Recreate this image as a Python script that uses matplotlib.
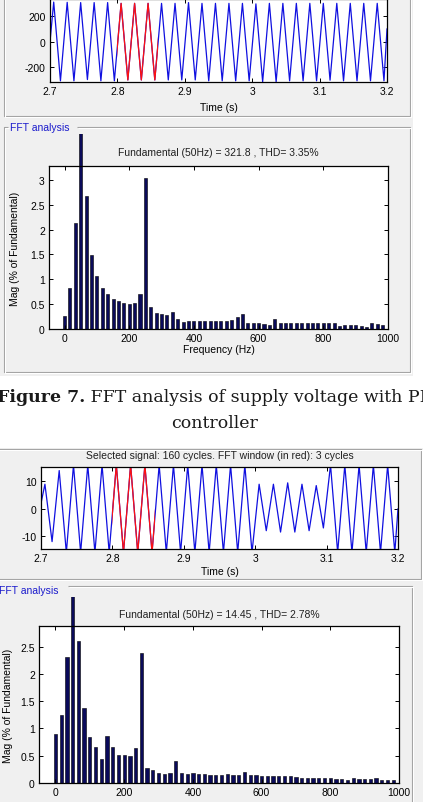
import numpy as np
import matplotlib.pyplot as plt
from matplotlib.patches import Rectangle
from matplotlib.transforms import Bbox, TransformedBbox

plt.rcParams['font.family'] = ['Liberation Sans', 'DejaVu Sans']
plt.rcParams['axes.unicode_minus'] = False

# ---- values ----
time_ticks = [2.7, 2.8, 2.9, 3.0, 3.1, 3.2]
time_ticklabels = ['2.7', '2.8', '2.9', '3', '3.1', '3.2']
freq_ticks = [0, 200, 400, 600, 800, 1000]
mag_ticks_1 = [0, 0.5, 1, 1.5, 2, 2.5, 3]
mag_ticks_2 = [0, 0.5, 1, 1.5, 2, 2.5]
volt_ticks_1 = [-200, 0, 200]
volt_ticks_2 = [-10, 0, 10]

first_peak_t = 2.7055   # time of the first positive peak (s)
half_period = 0.01      # 50 Hz supply
fft_window = (2.8, 2.86)  # 3 cycles shown in red
bin_hz = 50 / 3         # FFT resolution for a 3 cycle window

# top waveform: value at 2.7 s, then alternating peak / trough values, value at 3.2 s
sig1_start = 0
sig1_peaks = [310, 308, 306, 306, 306, 300, 300, 300, 300, 300, 306, 300, 300,
              300, 300, 296, 300, 300, 300, 300, 300, 300, 300, 300, 300]
sig1_troughs = [-305, -305, -295, -305, -305, -298, -298, -298, -298, -298, -298, -305, -305,
                -305, -305, -312, -312, -305, -305, -305, -300, -305, -305, -305, -305]
sig1_end = 100

# second waveform
sig2_start = 2
sig2_peaks = [9, 14, 16, 16, 16, 16, 16, 16, 16, 16, 16, 16, 16,
              16, 16, 9, 9, 9.5, 9, 8.5, 16, 16, 16, 16, 16]
sig2_troughs = [-12, -16, -16, -16, -16, -16, -16, -16, -16, -16, -16, -16, -16,
                -16, -16, -8, -8.5, -8.5, -8, -7, -16, -16, -16, -16, -16]
sig2_end = 0

# FFT magnitudes in % of fundamental; bin 3 is the 50 Hz fundamental (100 %)
fft1_mag = [0.27, 0.83, 2.14, 100, 2.68, 1.48, 1.06, 0.83, 0.71, 0.61,
            0.57, 0.53, 0.51, 0.53, 0.70, 3.03, 0.45, 0.33, 0.31, 0.29,
            0.35, 0.21, 0.15, 0.16, 0.16, 0.16, 0.16, 0.16, 0.16, 0.16,
            0.16, 0.19, 0.25, 0.31, 0.13, 0.13, 0.13, 0.10, 0.08, 0.21,
            0.13, 0.13, 0.13, 0.13, 0.13, 0.12, 0.13, 0.13, 0.13, 0.13,
            0.13, 0.06, 0.09, 0.09, 0.08, 0.06, 0.04, 0.12, 0.10, 0.09]
fft2_mag = [0.89, 1.24, 2.31, 100, 2.61, 1.37, 0.85, 0.66, 0.44, 0.86,
            0.66, 0.52, 0.52, 0.50, 0.64, 2.38, 0.27, 0.24, 0.19, 0.17,
            0.19, 0.40, 0.19, 0.16, 0.19, 0.17, 0.17, 0.14, 0.14, 0.14,
            0.16, 0.15, 0.15, 0.20, 0.14, 0.14, 0.12, 0.12, 0.12, 0.12,
            0.12, 0.12, 0.11, 0.10, 0.10, 0.10, 0.10, 0.10, 0.09, 0.08,
            0.08, 0.06, 0.09, 0.08, 0.08, 0.08, 0.09, 0.06, 0.06, 0.06]

title1 = 'Fundamental (50Hz) = 321.8 , THD= 3.35%'
title2 = 'Fundamental (50Hz) = 14.45 , THD= 2.78%'
sel_title = 'Selected signal: 160 cycles. FFT window (in red): 3 cycles'

W, H = 423, 803
fig = plt.figure(figsize=(W / 100, H / 100), dpi=100)
fig.patch.set_facecolor('white')

GRAY = '#f0f0f0'
BLUE_TXT = '#1a1acc'
BAR = '#0a0a5a'
FS = 7.5
SERIF = ['DejaVu Serif', 'Liberation Serif']


def px_axes(x0, y0, x1, y1, **kw):
    return fig.add_axes([x0 / W, 1 - y1 / H, (x1 - x0) / W, (y1 - y0) / H], **kw)


# background in pixel coordinates
bg = px_axes(0, 0, W, H, zorder=-5)
bg.set_xlim(0, W)
bg.set_ylim(H, 0)
bg.axis('off')
bg.add_patch(Rectangle((0, 0), 413, 377, fc=GRAY, ec='none'))
bg.add_patch(Rectangle((0, 449), 423, 360, fc=GRAY, ec='none'))


def etched(xs, ys):
    bg.plot(xs, ys, color='#a0a0a0', lw=0.8, solid_capstyle='butt')
    bg.plot(np.array(xs) + 1, np.array(ys) + 1, color='white', lw=0.8, solid_capstyle='butt')


# panel frames
etched([4, 4, 410, 410], [-5, 117, 117, -5])
etched([8, 4, 4, 410, 410, 77], [128, 128, 373, 373, 128, 128])
etched([-5, 421, 421, -5], [450, 450, 580, 580])
etched([68, 412, 412], [587, 587, 810])
bg.text(10, 128, 'FFT analysis', color=BLUE_TXT, fontsize=FS, va='center', ha='left')
bg.text(-1, 591, 'FFT analysis', color=BLUE_TXT, fontsize=FS, va='center', ha='left')

# caption
cap = bg.text(-3, 402, 'Figure 7.', family=SERIF,
              fontsize=12.5, fontweight='bold', va='baseline', ha='left', color='#1a1a1a')
bg.annotate(' FFT analysis of supply voltage with PI', xy=(1, 0), xycoords=cap,
            va='bottom', ha='left', family=SERIF, fontsize=12.5, color='#1a1a1a')
bg.text(215, 428, 'controller', family=SERIF,
        fontsize=12.5, va='baseline', ha='center', color='#1a1a1a')


def style(ax):
    ax.set_facecolor('white')
    ax.tick_params(direction='in', length=3, width=0.7, labelsize=FS, pad=3,
                   top=True, right=True)
    for s in ax.spines.values():
        s.set_linewidth(0.9)


def waveform(ax, start, peaks, troughs, end, ylim):
    ext = np.ravel(np.column_stack([peaks, troughs]))
    t = np.r_[time_ticks[0], first_peak_t + half_period * np.arange(len(ext)), time_ticks[-1]]
    v = np.r_[start, ext, end]
    ax.plot(t, v, color='#1010e0', lw=0.9)
    red, = ax.plot(t, v, color='#ff1010', lw=0.9)
    red.set_clip_box(TransformedBbox(Bbox([[fft_window[0], ylim[0]], [fft_window[1], ylim[1]]]),
                                     ax.transData))
    ax.set_xlim(time_ticks[0], time_ticks[-1])
    ax.set_ylim(*ylim)
    ax.set_xticks(time_ticks)
    ax.set_xticklabels(time_ticklabels)


def spectrum(ax, mags, ylim, yticks, top_frac):
    freq = np.arange(len(mags)) * bin_hz
    bars = ax.bar(freq, mags, width=9.5, color=BAR, edgecolor='black', linewidth=0.4)
    clip = TransformedBbox(Bbox([[0, 0], [1, top_frac]]), ax.transAxes)
    for b in bars:
        b.set_clip_box(clip)
    ax.set_xlim(-48, 1000)
    ax.set_ylim(*ylim)
    ax.set_xticks(freq_ticks)
    ax.set_yticks(yticks)
    ax.set_yticklabels([f'{v:g}' for v in yticks])


# --- first screenshot ---
a1 = px_axes(50, 0, 387, 83)
style(a1)
waveform(a1, sig1_start, sig1_peaks, sig1_troughs, sig1_end, (-314, 334))
a1.set_yticks(volt_ticks_1)
a1.set_xlabel('Time (s)', fontsize=FS, va='center')
a1.xaxis.set_label_coords(0.5, -0.30)

f1 = px_axes(49, 167, 388, 330)
style(f1)
spectrum(f1, fft1_mag, (0, 3.28), mag_ticks_1, (330 - 135) / 163)
f1.set_title(title1, fontsize=FS, y=(330 - 153) / 163, va='center', pad=0, color='#202020')
f1.set_xlabel('Frequency (Hz)', fontsize=FS, va='center')
f1.xaxis.set_label_coords(0.5, -0.123)
f1.set_ylabel('Mag (% of Fundamental)', fontsize=FS, va='center')
f1.yaxis.set_label_coords(-0.10, 0.5)

# --- second screenshot ---
a2 = px_axes(41, 468, 398, 550)
style(a2)
waveform(a2, sig2_start, sig2_peaks, sig2_troughs, sig2_end, (-14.7, 15.3))
a2.set_yticks(volt_ticks_2)
a2.set_title(sel_title, fontsize=FS, y=(550 - 456) / 82, va='center', pad=0, color='#202020')
a2.set_xlabel('Time (s)', fontsize=FS, va='center')
a2.xaxis.set_label_coords(0.5, -0.267)

f2 = px_axes(39, 627, 399, 784)
style(f2)
spectrum(f2, fft2_mag, (0, 2.88), mag_ticks_2, (784 - 598) / 157)
f2.set_title(title2, fontsize=FS, y=(784 - 615) / 157, va='center', pad=0, color='#202020')
f2.set_xlabel('Frequency (Hz)', fontsize=FS, va='center')
f2.xaxis.set_label_coords(0.5, -0.15)
f2.set_ylabel('Mag (% of Fundamental)', fontsize=FS, va='center')
f2.yaxis.set_label_coords(-0.086, 0.5)

fig.savefig('out.png', dpi=100)
